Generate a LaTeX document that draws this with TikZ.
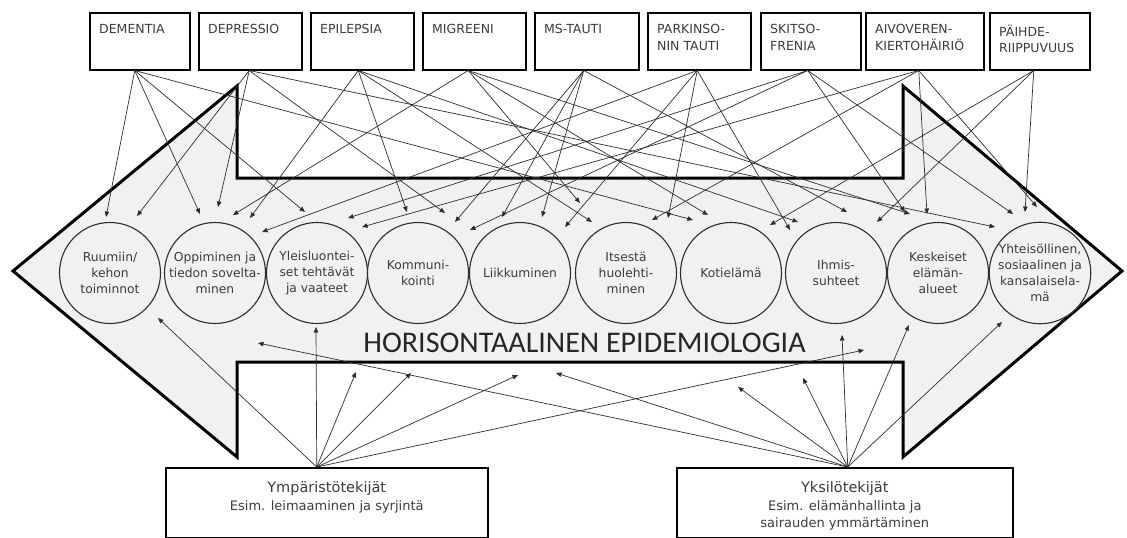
\documentclass[tikz,border=0pt]{standalone}
\usepackage{fontspec}
\setmainfont{DejaVu Sans}
\newfontfamily\carlito{Carlito}
\usetikzlibrary{arrows.meta}
\definecolor{arrfill}{HTML}{F1F1F1}
\definecolor{txt}{HTML}{3C3C3C}
\definecolor{ln}{HTML}{2E2E2E}
\begin{document}
\begin{tikzpicture}[x=1pt,y=-1pt,
  dbox/.style={draw=black, line width=1.5pt, fill=white, minimum width=#1, minimum height=57pt, inner sep=0pt, anchor=north west},
  dtext/.style={anchor=north west, inner sep=0pt, align=left, text=txt, font=\fontsize{12.5}{16.5}\selectfont},
  circ/.style={circle, draw=ln, line width=1.1pt, fill=arrfill, minimum size=101pt, inner sep=0pt, align=center, text=txt, font=\fontsize{12.3}{16}\selectfont},
  bbox/.style={draw=black, line width=1.5pt, fill=white, inner sep=0pt, minimum height=70pt, minimum width=#1, anchor=north west},
  btext/.style={anchor=north, inner sep=0pt, align=center, text=txt, font=\fontsize{13}{17.5}\selectfont},
  conn/.style={draw=ln, line width=0.7pt, -{Triangle[length=5.5pt,width=4.5pt]}},
]
\useasboundingbox (0,0) rectangle (1127,538);
\fill[white] (0,0) rectangle (1127,538);

% big double arrow
\draw[line width=3pt, fill=arrfill, line join=miter, miter limit=10]
  (13,271) -- (237,86) -- (237,178) -- (903,178) -- (903,86) -- (1122,271)
  -- (903,457) -- (903,362) -- (237,362) -- (237,457) -- cycle;

% top boxes
\node[dbox=100pt] (dem) at (89,12) {};
\node[dbox=103pt] (dep) at (198,12) {};
\node[dbox=103pt] (epi) at (310,12) {};
\node[dbox=103pt] (mig) at (422,12) {};
\node[dbox=104pt] (ms) at (534,12) {};
\node[dbox=103pt] (par) at (647,12) {};
\node[dbox=100pt] (ski) at (760,12) {};
\node[dbox=118pt] (aiv) at (865,12) {};
\node[dbox=100pt] (pai) at (989,12) {};
\node[dtext] (dem-t) at ([shift={(10,12.5)}]dem.north west) {DEMENTIA};
\node[dtext] (dep-t) at ([shift={(10,12.5)}]dep.north west) {DEPRESSIO};
\node[dtext] (epi-t) at ([shift={(10,12.5)}]epi.north west) {EPILEPSIA};
\node[dtext] (mig-t) at ([shift={(10,12.5)}]mig.north west) {MIGREENI};
\node[dtext] (ms-t) at ([shift={(10,12.5)}]ms.north west) {MS-TAUTI};
\node[dtext] (par-t) at ([shift={(10,12.5)}]par.north west) {PARKINSO-\\NIN TAUTI};
\node[dtext] (ski-t) at ([shift={(10,12.5)}]ski.north west) {SKITSO-\\FRENIA};
\node[dtext] (aiv-t) at ([shift={(10,12.5)}]aiv.north west) {AIVOVEREN-\\KIERTOHÄIRIÖ};
\node[dtext] (pai-t) at ([shift={(10,12.5)}]pai.north west) {PÄIHDE-\\RIIPPUVUUS};

% source points
\coordinate (s-dem) at ([xshift=-5pt]dem.south);
\coordinate (s-dep) at ([xshift=-1pt]dep.south);
\coordinate (s-epi) at ([xshift=-4pt]epi.south);
\coordinate (s-mig) at ([xshift=-6pt]mig.south);
\coordinate (s-ms) at ([xshift=-3pt]ms.south);
\coordinate (s-par) at ([xshift=-2pt]par.south);
\coordinate (s-ski) at ([xshift=-3pt]ski.south);
\coordinate (s-aiv) at ([xshift=-6pt]aiv.south);
\coordinate (s-pai) at ([xshift=-6pt]pai.south);

% arrow tips above the circles
\coordinate (a1) at (106,217);
\coordinate (a2) at (137,216);
\coordinate (a3) at (200,214);
\coordinate (a4) at (218,207);
\coordinate (a5) at (233,215);
\coordinate (a6) at (250,218);
\coordinate (a7) at (305,212);
\coordinate (a8) at (262,232);
\coordinate (a9) at (348,218);
\coordinate (a10) at (362,227);
\coordinate (a11) at (407,212);
\coordinate (a12) at (445,213);
\coordinate (a13) at (455,222);
\coordinate (a14) at (470,230);
\coordinate (a15) at (502,217);
\coordinate (a16) at (542,217);
\coordinate (a17) at (565,227);
\coordinate (a18) at (580,203);
\coordinate (a19) at (592,222);
\coordinate (a20) at (652,220);
\coordinate (a21) at (668,218);
\coordinate (a22) at (693,220);
\coordinate (a23) at (708,215);
\coordinate (a24) at (770,225);
\coordinate (a25) at (790,230);
\coordinate (a26) at (798,222);
\coordinate (a27) at (847,212);
\coordinate (a28) at (877,222);
\coordinate (a29) at (905,212);
\coordinate (a30) at (910,214);
\coordinate (a31) at (927,214);
\coordinate (a32) at (995,227);
\coordinate (a33) at (1013,214);
\coordinate (a34) at (1025,212);
\coordinate (a35) at (1037,207);

\foreach \s/\t in {dem/a1,dem/a3,dem/a7,dem/a22,
                   dep/a2,dep/a4,dep/a12,dep/a32,
                   epi/a6,epi/a11,epi/a19,epi/a26,
                   mig/a5,mig/a18,mig/a23,mig/a30,
                   ms/a13,ms/a15,ms/a16,ms/a27,
                   par/a8,par/a17,par/a21,par/a25,
                   ski/a9,ski/a14,ski/a29,ski/a33,
                   aiv/a10,aiv/a20,aiv/a31,aiv/a35,
                   pai/a24,pai/a28,pai/a34}
  \draw[conn] (s-\s) -- (\t);

% circles
\node[circ] (c1) at (110,273) {Ruumiin/\\kehon\\toiminnot};
\node[circ] (c2) at (215,273) {Oppiminen ja\\tiedon sovelta-\\minen};
\node[circ] (c3) at (317,273) {Yleisluontei-\\set tehtävät\\ja vaateet};
\node[circ] (c4) at (418,273) {Kommuni-\\kointi};
\node[circ] (c5) at (520,273) {Liikkuminen};
\node[circ] (c6) at (626,273) {Itsestä\\huolehti-\\minen};
\node[circ] (c7) at (731,273) {Kotielämä};
\node[circ] (c8) at (836,273) {Ihmis-\\suhteet};
\node[circ] (c9) at (938,273) {Keskeiset\\elämän-\\alueet};
\node[circ] (c10) at (1040,273) {Yhteisöllinen,\\sosiaalinen ja\\kansalaisela-\\mä};

% title
\node[anchor=base, inner sep=0pt, text=black!85, font=\carlito\fontsize{30}{30}\selectfont] (title) at (584.5,352) {HORISONTAALINEN EPIDEMIOLOGIA};

% bottom boxes
\node[bbox=322pt] (ymp) at (165,467) {};
\node[bbox=336pt] (yks) at (676,467) {};
\node[btext] (ymp-t) at ([shift={(0,14.5)}]ymp.north) {{\fontsize{14.5}{17.5}\selectfont Ympäristötekijät}\\Esim. leimaaminen ja syrjintä};
\node[btext] (yks-t) at ([shift={(0,14.5)}]yks.north) {{\fontsize{14.5}{17.5}\selectfont Yksilötekijät}\\Esim. elämänhallinta ja\\sairauden ymmärtäminen};

\coordinate (s-ymp) at ([xshift=-10pt]ymp.north);
\coordinate (s-yks) at ([xshift=3pt]yks.north);

\coordinate (b1) at (158,318);
\coordinate (b2) at (316,327);
\coordinate (b3) at (258,343);
\coordinate (b4) at (356,372);
\coordinate (b5) at (411,373);
\coordinate (b6) at (518,375);
\coordinate (b7) at (556,373);
\coordinate (b8) at (864,350);
\coordinate (b9) at (738,387);
\coordinate (b10) at (803,378);
\coordinate (b11) at (842,335);
\coordinate (b12) at (909,325);
\coordinate (b13) at (1002,322);

\foreach \t in {b1,b2,b4,b5,b6,b8}
  \draw[conn] (s-ymp) -- (\t);
\foreach \t in {b3,b7,b9,b10,b11,b12,b13}
  \draw[conn] (s-yks) -- (\t);
\end{tikzpicture}
\end{document}
